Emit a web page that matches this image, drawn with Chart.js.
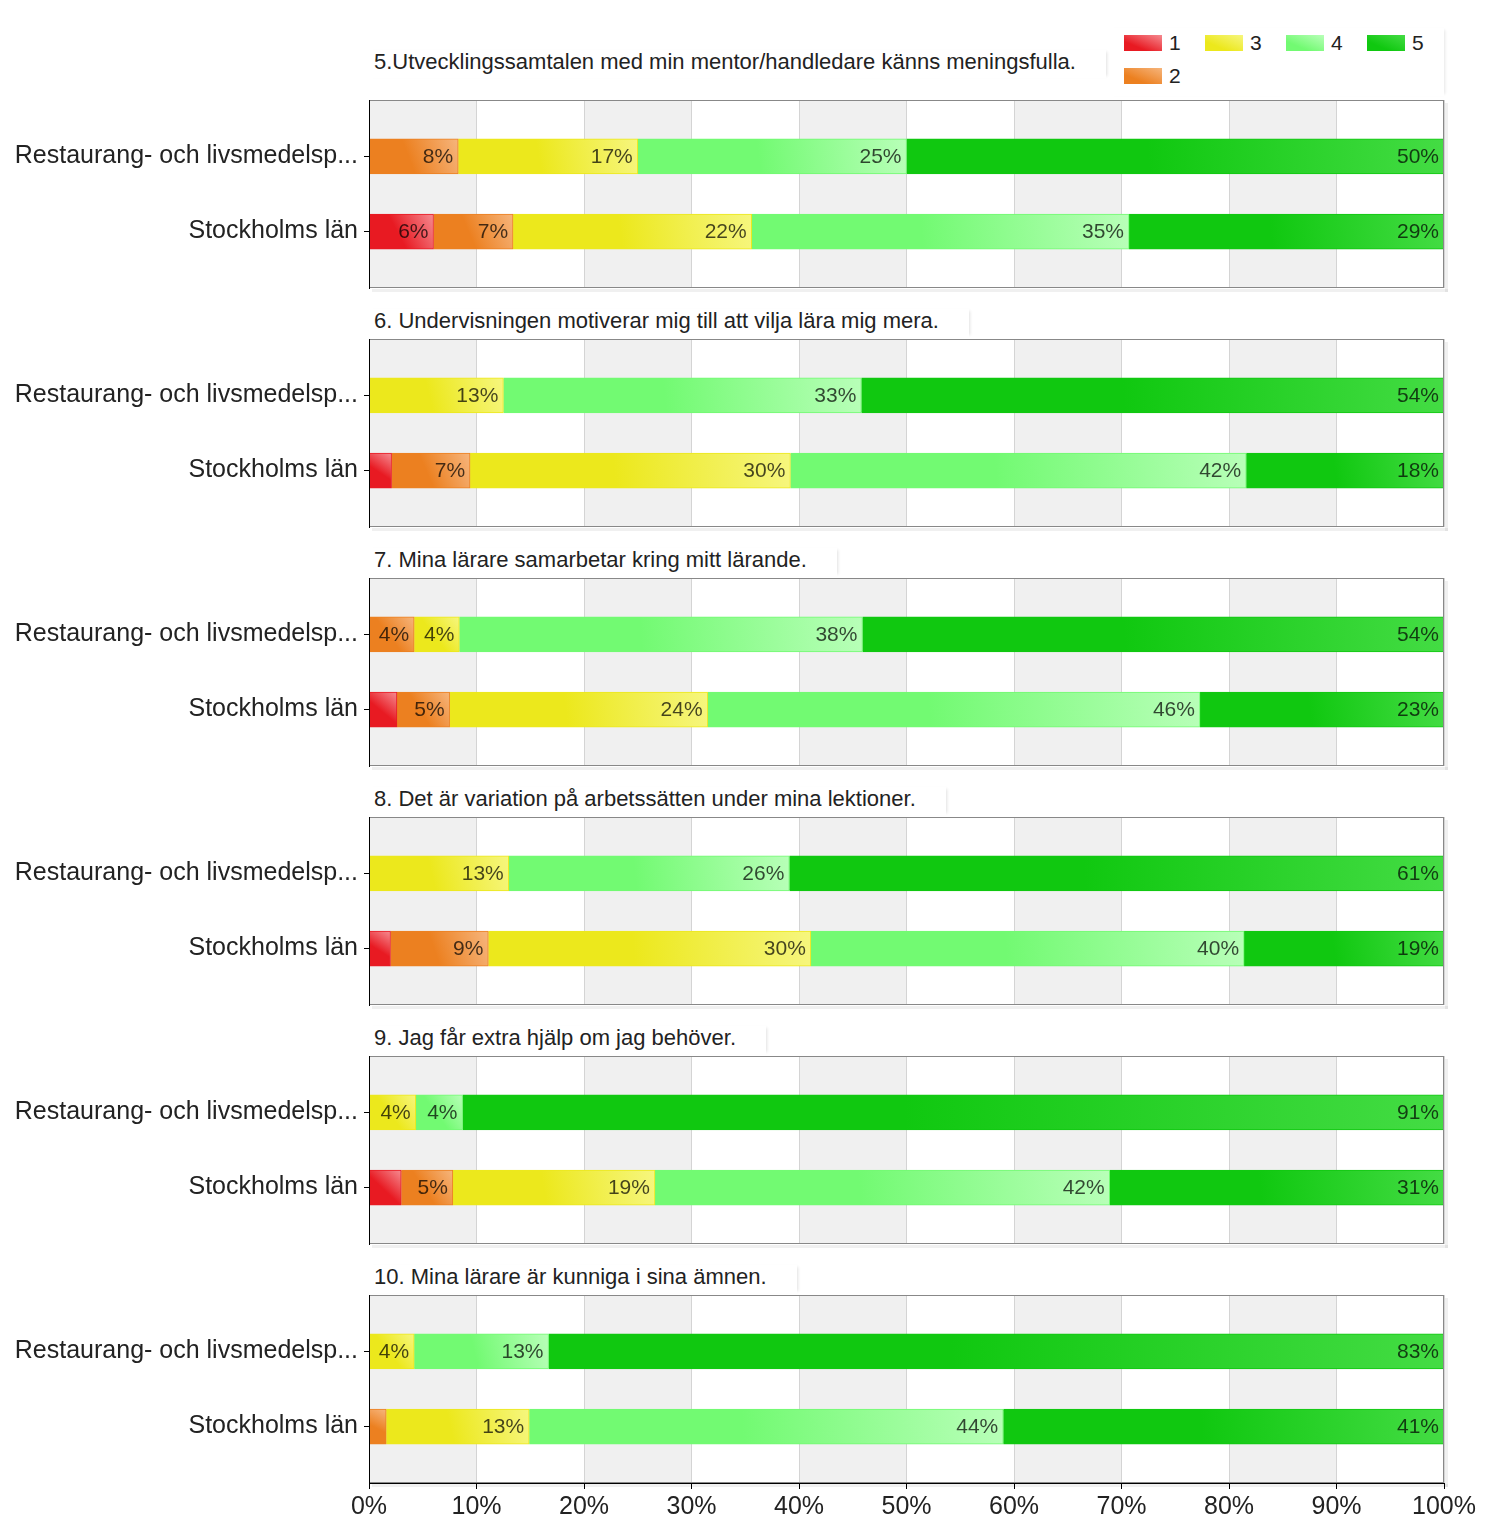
<!DOCTYPE html>
<html>
<head>
<meta charset="utf-8">
<script src="https://cdn.jsdelivr.net/npm/chart.js@4"></script>
<style>
  body { margin: 0; background: #fff; font-family: "Liberation Sans", Arial, sans-serif; }
  #page { position: relative; width: 1500px; height: 1537px; overflow: hidden; }
  .panel { position: absolute; left: 0; }
  .title { position: absolute; left: 368px; height: 28px; line-height: 24px; font-size: 22px; color: #222;
           padding: 0 30px 0 6px; background: #fff; box-shadow: 3px 0 3px -2px rgba(0,0,0,0.12); white-space: nowrap; }
  #legend { position: absolute; left: 1108px; top: 28px; width: 336px; height: 68px; background: #fff;
            box-shadow: 3px 0 3px -2px rgba(0,0,0,0.1); }
  .leg { position: absolute; font-size: 21px; color: #222; line-height: 22px; }
  .leg span { display: inline-block; width: 38px; height: 16px; margin-right: 7px; vertical-align: -1px; }
</style>
</head>
<body>
<div id="page">
  <div id="legend"></div>
</div>
<script>
// answer scale 1..5 and the two groups
const answers = ["1", "2", "3", "4", "5"];
const groups = ["Restaurang- och livsmedelsp...", "Stockholms län"];

const questions = [
  "5.Utvecklingssamtalen med min mentor/handledare känns meningsfulla.",
  "6. Undervisningen motiverar mig till att vilja lära mig mera.",
  "7. Mina lärare samarbetar kring mitt lärande.",
  "8. Det är variation på arbetssätten under mina lektioner.",
  "9. Jag får extra hjälp om jag behöver.",
  "10. Mina lärare är kunniga i sina ämnen."
];

// percent per answer (1..5), one row per question
const restaurang = [
  [0, 8.3, 16.7, 25.0, 50.0],
  [0, 0, 12.5, 33.3, 54.2],
  [0, 4.2, 4.2, 37.5, 54.1],
  [0, 0, 13.0, 26.1, 60.9],
  [0, 0, 4.35, 4.35, 91.3],
  [0, 0, 4.2, 12.5, 83.3]
];
const stockholm = [
  [6.0, 7.4, 22.2, 35.1, 29.3],
  [2.1, 7.3, 29.8, 42.4, 18.4],
  [2.6, 4.9, 24.0, 45.8, 22.7],
  [2.0, 9.1, 30.0, 40.3, 18.6],
  [3.0, 4.8, 18.8, 42.3, 31.1],
  [0, 1.6, 13.3, 44.1, 41.0]
];

const baseColors = ["#e81a22", "#ec8020", "#ece81c", "#72fa72", "#10c810"];
const lightColors = ["#f58a90", "#f6b57c", "#f6f67e", "#b8ffb8", "#44dc44"];

Chart.defaults.font.family = '"Liberation Sans", Arial, sans-serif';
Chart.defaults.color = "#222";

// legend (google style: 2 rows, column major)
const legendSlots = [[0, 0], [0, 1], [1, 0], [2, 0], [3, 0]];
const legendEl = document.getElementById("legend");
answers.forEach((a, i) => {
  const d = document.createElement("div");
  d.className = "leg";
  d.style.left = (16 + legendSlots[i][0] * 81) + "px";
  d.style.top = (4 + legendSlots[i][1] * 33) + "px";
  d.innerHTML = `<span style="background:linear-gradient(to top right, ${baseColors[i]} 30%, ${lightColors[i]})"></span>${a}`;
  legendEl.appendChild(d);
});

// column stripes behind the bars
const stripes = {
  id: "stripes",
  beforeDraw(chart) {
    const { ctx, chartArea: a, scales: { x } } = chart;
    ctx.save();
    for (let v = 0; v < 100; v += 20) {
      const x0 = x.getPixelForValue(v), x1 = x.getPixelForValue(v + 10);
      ctx.fillStyle = "#f0f0f0";
      ctx.fillRect(x0, a.top, x1 - x0, a.bottom - a.top);
    }
    ctx.restore();
  }
};

// frame + value labels
const frame = {
  id: "frame",
  afterDatasetsDraw(chart) {
    const { ctx, chartArea: a } = chart;
    ctx.save();
    ctx.font = '21px "Liberation Sans", Arial, sans-serif';
    ctx.fillStyle = "rgba(0,0,0,0.72)";
    ctx.textAlign = "right";
    ctx.textBaseline = "middle";
    chart.data.datasets.forEach((ds, d) => {
      chart.getDatasetMeta(d).data.forEach((bar, i) => {
        const p = bar.getProps(["x", "base", "y"], true);
        const txt = Math.round(ds.data[i].x) + "%";
        if (p.x - p.base >= ctx.measureText(txt).width + 8) {
          ctx.fillText(txt, p.x - 5, p.y + 1);
        }
      });
    });
    ctx.fillStyle = "rgba(0,0,0,0.06)";
    ctx.fillRect(a.right + 1, a.top + 3, 3, a.bottom - a.top + 1);
    ctx.fillRect(a.left + 3, a.bottom + 1, a.right - a.left + 1, 3);
    ctx.strokeStyle = "#888";
    ctx.lineWidth = 1;
    ctx.strokeRect(Math.round(a.left) + 0.5, Math.round(a.top) + 0.5, Math.round(a.right - a.left) - 1, Math.round(a.bottom - a.top) - 1);
    ctx.restore();
  }
};

function barFill(q, rows, s) {
  return (c) => {
    const chart = c.chart;
    if (c.type !== "data" || !chart.chartArea) return baseColors[s];
    const vals = rows[c.dataIndex][q];
    let start = 0;
    for (let k = 0; k < s; k++) start += vals[k];
    const x0 = chart.scales.x.getPixelForValue(start);
    const x1 = chart.scales.x.getPixelForValue(start + vals[s]);
    const yc = chart.scales.y.getPixelForValue(c.dataIndex + 1);
    const g = chart.ctx.createLinearGradient(x0, yc + 17, x1, yc - 17);
    g.addColorStop(0, baseColors[s]);
    g.addColorStop(0.45, baseColors[s]);
    g.addColorStop(1, lightColors[s]);
    return g;
  };
}

const page = document.getElementById("page");
questions.forEach((title, q) => {
  const top = 100 + q * 239;
  const last = q === questions.length - 1;

  const t = document.createElement("div");
  t.className = "title";
  t.textContent = title;
  t.style.top = (q === 0 ? 50 : top - 30) + "px";
  page.appendChild(t);

  const wrap = document.createElement("div");
  wrap.className = "panel";
  wrap.style.top = top + "px";
  const cv = document.createElement("canvas");
  cv.width = 1500;
  cv.height = last ? 242 : 192;
  wrap.appendChild(cv);
  page.appendChild(wrap);

  const rows = [restaurang, stockholm];
  const datasets = answers.map((a, s) => ({
    label: a,
    data: rows.map((r, i) => ({ x: r[q][s], y: i + 1 })),
    backgroundColor: barFill(q, rows, s),
    borderColor: baseColors[s],
    borderWidth: 1,
    barThickness: 35
  }));

  new Chart(cv, {
    type: "bar",
    data: { datasets },
    options: {
      indexAxis: "y",
      responsive: false,
      animation: false,
      devicePixelRatio: 1,
      layout: { padding: { top: 0, right: 56, bottom: last ? 0 : 4, left: 0 } },
      plugins: { legend: { display: false }, tooltip: { enabled: false } },
      scales: {
        x: {
          type: "linear", min: 0, max: 100, stacked: true,
          ticks: { stepSize: 10, display: last, callback: v => v + "%", font: { size: 25 }, color: "#222", padding: 3 },
          grid: { color: "#d4d4d4", drawTicks: last, tickLength: 6, tickColor: "#000" },
          border: { display: last, color: "#000", z: 1 },
          afterFit: s => { s.height = last ? 54 : 0; }
        },
        y: {
          type: "linear", reverse: true, min: 0.25, max: 2.75, stacked: true, offset: false, bounds: "data",
          afterBuildTicks: s => { s.ticks = groups.map((g, i) => ({ value: i + 1 })); },
          ticks: { callback: v => groups[v - 1], font: { size: 25 }, color: "#222", padding: 6, autoSkip: false },
          grid: { offset: false, drawOnChartArea: false, drawTicks: true, tickLength: 5, tickColor: "#000" },
          border: { color: "#000", z: 1 },
          afterFit: s => { s.width = 369; s.paddingTop = 0; s.paddingBottom = 0; }
        }
      }
    },
    plugins: [stripes, frame]
  });
});
</script>
</body>
</html>
